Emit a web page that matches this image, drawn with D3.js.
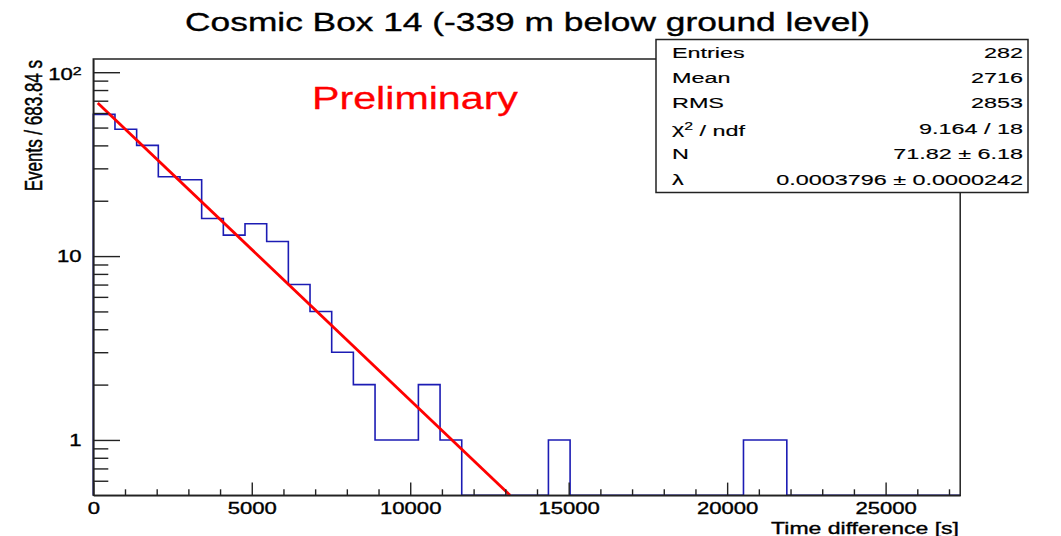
<!DOCTYPE html>
<html><head><meta charset="utf-8">
<script src="https://cdn.jsdelivr.net/npm/d3@7"></script>
<style>
body{margin:0;background:#fff}
svg{display:block}
text{font-family:"Liberation Sans",Arial,Helvetica,sans-serif;fill:#000}
.heavy{stroke:#000;stroke-width:0.35px}
.semi{stroke:#000;stroke-width:0.15px}
</style>
</head><body>
<svg id="c" width="1061" height="536"></svg>
<script>
// ---- data ----
const binWidth = 683.84;
const nBins = 40;
const counts = [59,49,40,27,26,16,13,15,12,7,5,3,2,1,1,2,1,0,0,0,0,1,0,0,0,0,0,0,0,0,1,1,0,0,0,0,0,0,0,0];
const xMajorTicks = [0,5000,10000,15000,20000,25000];
const xMinorTicks = [1000,2000,3000,4000,6000,7000,8000,9000,11000,12000,13000,14000,16000,17000,18000,19000,21000,22000,23000,24000,26000,27000];
const yMajorTicks = [1,10,100];
const yMinorTicks = [0.6,0.7,0.8,0.9,2,3,4,5,6,7,8,9,20,30,40,50,60,70,80,90];
const yDomain = [0.5, 118];
const fitX = [140, 13150];
const fitY = [68.1, 0.5];
const statsLabels = ["Entries","Mean","RMS","χ2 / ndf","N","λ"];
const statsValues = ["282","2716","2853","9.164 / 18","71.82 ± 6.18","0.0003796 ± 0.0000242"];
const titleText = "Cosmic Box 14 (-339 m below ground level)";
const xTitle = "Time difference [s]";
const yTitle = "Events / 683.84 s";
const watermark = "Preliminary";

// ---- layout ----
const L = 93.3, R = 960.2, T = 59, B = 495.3;
const svg = d3.select("#c");
svg.append("rect").attr("width",1061).attr("height",536).attr("fill","#fff");

const x = d3.scaleLinear().domain([0, nBins*binWidth]).range([L, R]);
const y = d3.scaleLog().domain(yDomain).range([B, T]);

function stretch(sel, target){
  const l = sel.node().getComputedTextLength();
  return target / l;
}

// histogram
let p = d3.path();
p.moveTo(x(0), B);
counts.forEach((c,i)=>{
  const yv = c>0 ? y(c) : B;
  p.lineTo(x(i*binWidth), yv);
  p.lineTo(x((i+1)*binWidth), yv);
});
p.lineTo(x(nBins*binWidth), B);
svg.append("path").attr("d", p.toString()).attr("fill","none")
  .attr("stroke","#1c1cb4").attr("stroke-width",1.6);

// fit line
const fitPts = fitX.map((v,i)=>[v, fitY[i]]);
svg.append("path").datum(fitPts)
  .attr("d", d3.line().x(d=>x(d[0])).y(d=>y(d[1])))
  .attr("fill","none").attr("stroke","#ff0000").attr("stroke-width",2.8);

// frame
svg.append("rect").attr("x",L).attr("y",T).attr("width",R-L).attr("height",B-T)
  .attr("fill","none").attr("stroke","#222").attr("stroke-width",1.5);

// x axis
const tickSX = 1.38;
const gx = svg.append("g").attr("transform",`translate(0,${B})`)
  .call(d3.axisBottom(x).tickValues(xMajorTicks).tickSize(-12.7).tickSizeOuter(0).tickPadding(7.5).tickFormat(d3.format("d")));
const gxm = svg.append("g").attr("transform",`translate(0,${B})`)
  .call(d3.axisBottom(x).tickValues(xMinorTicks).tickSize(-6).tickSizeOuter(0).tickFormat(""));
gxm.select(".domain").remove();
[gx,gxm].forEach(g=>{
  g.select(".domain").attr("stroke","#222").attr("stroke-width",1.5);
  g.selectAll(".tick line").attr("stroke","#222").attr("stroke-width",1.4);
});
gx.selectAll(".tick text").attr("font-size",16).attr("fill","#000").attr("class","heavy")
  .attr("font-family",'"Liberation Sans",Arial,sans-serif')
  .attr("transform",`scale(${tickSX},1)`);

// y axis
const gy = svg.append("g").attr("transform",`translate(${L},0)`)
  .call(d3.axisLeft(y).tickValues(yMajorTicks).tickSize(-26.7).tickSizeOuter(0).tickPadding(8.5).tickFormat(d=>String(d)));
const gym = svg.append("g").attr("transform",`translate(${L},0)`)
  .call(d3.axisLeft(y).tickValues(yMinorTicks).tickSize(-15).tickSizeOuter(0).tickFormat(""));
gym.select(".domain").remove();
[gy,gym].forEach(g=>{
  g.select(".domain").attr("stroke","#222").attr("stroke-width",1.5);
  g.selectAll(".tick line").attr("stroke","#222").attr("stroke-width",1.4);
});
gy.selectAll(".tick text").attr("font-size",16).attr("fill","#000").attr("class","heavy")
  .attr("font-family",'"Liberation Sans",Arial,sans-serif')
  .attr("transform",`scale(${tickSX},1)`)
  .each(function(d){
    if(d===100){
      const t = d3.select(this);
      t.text("10");
      t.append("tspan").attr("dy","-0.45em").attr("font-size","11.5px").text("2");
      t.attr("dy","0.45em");
    }
  });

// axis titles
const xt = svg.append("text").attr("font-size",17).attr("class","heavy").attr("text-anchor","end").text(xTitle);
xt.attr("transform",`translate(959,534) scale(${stretch(xt,188)},1)`);
const yt = svg.append("text").attr("font-size",17).attr("class","heavy").attr("text-anchor","end").text(yTitle);
yt.attr("transform",`translate(42,60) scale(1.4,1) rotate(-90)`);

// title
const tt = svg.append("text").attr("font-size",26).attr("class","heavy").attr("text-anchor","middle").text(titleText);
tt.attr("transform",`translate(527.5,30.5) scale(${stretch(tt,685)},1)`);

// watermark
const wm = svg.append("text").attr("font-size",32).text(watermark);
wm.style("fill","#ff0000").style("stroke","#ff0000").style("stroke-width","0.3px");
wm.attr("transform",`translate(312,108.5) scale(${stretch(wm,206)},1)`);

// stats box
const bx0 = 656, by0 = 39.5, bx1 = 1028, by1 = 192.5;
svg.append("rect").attr("x",bx0).attr("y",by0).attr("width",bx1-bx0).attr("height",by1-by0)
  .attr("fill","#fff").attr("stroke","#222").attr("stroke-width",1.5);
const sg = svg.append("g");
const probe = sg.append("text").attr("font-size",15.5).text(statsValues[5]);
const sSX = stretch(probe, 247);
probe.remove();
statsLabels.forEach((lab,i)=>{
  const by = 57.6 + i*25.4;
  const t = sg.append("text").attr("font-size",15.5).attr("class","semi")
    .attr("transform",`translate(672,${by}) scale(${sSX},1)`);
  if(lab.startsWith("χ2")){
    t.append("tspan").text("χ");
    t.append("tspan").attr("dy","-0.4em").attr("font-size","10.5px").text("2");
    t.append("tspan").attr("dy","0.4em").text(" / ndf");
  } else {
    t.text(lab);
  }
  sg.append("text").attr("font-size",15.5).attr("class","semi").attr("text-anchor","end")
    .attr("transform",`translate(1023,${by}) scale(${sSX},1)`).text(statsValues[i]);
});
</script>
</body></html>
